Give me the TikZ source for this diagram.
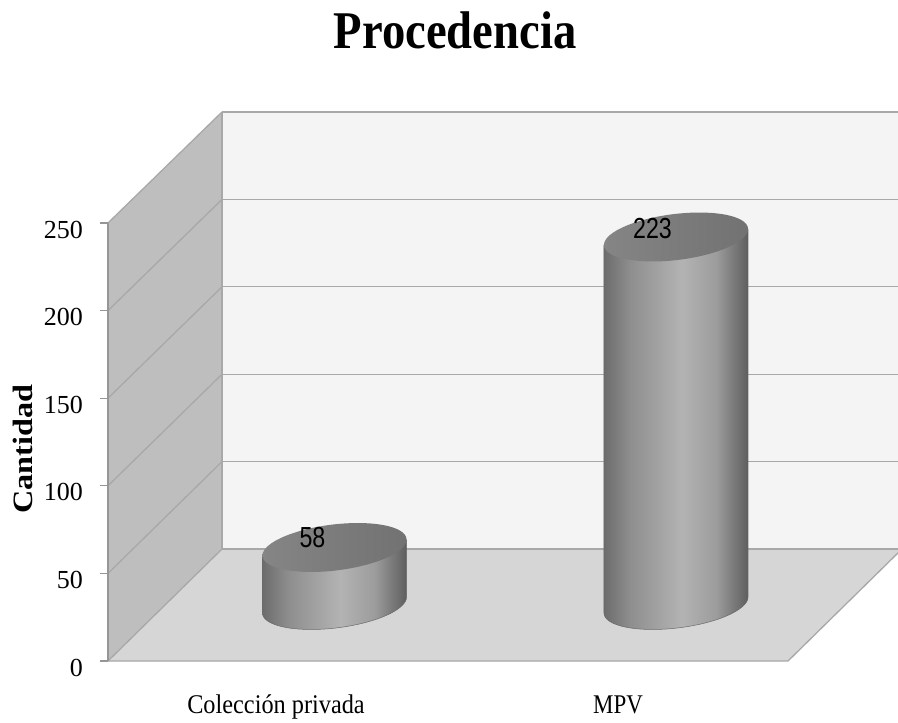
\documentclass[tikz,border=0pt]{standalone}
\usepackage{fontspec}
\setmainfont{Liberation Serif}
\newfontfamily\lsans{Liberation Sans}
\definecolor{lwall}{HTML}{BEBEBE}
\definecolor{bwall}{HTML}{F4F4F4}
\definecolor{floorc}{HTML}{D6D6D6}
\definecolor{gridc}{HTML}{A8A8A8}
\definecolor{axisc}{HTML}{969696}
\definecolor{cyA}{HTML}{6C6C6C}
\definecolor{cyB}{HTML}{8E8E8E}
\definecolor{cyC}{HTML}{B3B3B3}
\definecolor{cyD}{HTML}{9C9C9C}
\definecolor{cyE}{HTML}{5E5E5E}
\definecolor{topL}{HTML}{858585}
\definecolor{topR}{HTML}{727272}
\definecolor{cyedge}{HTML}{6A6A6A}
\pgfdeclarehorizontalshading{cylside}{100bp}{color(0bp)=(cyA); color(25bp)=(cyA); color(34bp)=(cyB); color(52bp)=(cyC); color(64bp)=(cyD); color(75bp)=(cyE); color(100bp)=(cyE)}
\newcommand{\mycyl}[3]{%
  \shade[shading=cylside] ({#1-72.02},{#2+7.94}) -- ({#1-72.02},{#3+7.94})
    -- plot[domain=182.23:2.23, samples=80, variable=\t]
       ({#1+72.5*cos(\t)*0.99255+23*sin(\t)*0.12187},{#3-72.5*cos(\t)*0.12187+23*sin(\t)*0.99255})
    -- ({#1+72.02},{#2-7.94}) -- cycle;
  \draw[cyedge, line width=0.5pt] ({#1-72.02},{#2+7.94}) -- ({#1-72.02},{#3+7.94})
    -- plot[domain=182.23:2.23, samples=80, variable=\t]
       ({#1+72.5*cos(\t)*0.99255+23*sin(\t)*0.12187},{#3-72.5*cos(\t)*0.12187+23*sin(\t)*0.99255})
    -- ({#1+72.02},{#2-7.94});
  \shade[left color=topL, right color=topR]
    plot[domain=0:360, samples=120, variable=\t]
       ({#1+72.5*cos(\t)*0.99255+23*sin(\t)*0.12187},{#2-72.5*cos(\t)*0.12187+23*sin(\t)*0.99255}) -- cycle;
}
\begin{document}
\begin{tikzpicture}[x=1pt,y=-1pt,
  gridline/.style={draw=gridc, line width=1.3pt},
  ticklab/.style={anchor=base east, inner sep=0pt, font=\fontsize{26}{30}\selectfont},
  catlab/.style={anchor=base, inner sep=0pt, font=\fontsize{27}{32}\selectfont},
  vallab/.style={anchor=base, inner sep=0pt, font=\lsans\fontsize{29}{34}\selectfont}]
\useasboundingbox (0,0) rectangle (898,723);
\fill[white] (0,0) rectangle (898,723);
% walls and floor
\fill[lwall] (108,223) -- (222,112) -- (222,549) -- (108,661) -- cycle;
\fill[bwall] (222,112) rectangle (902,549);
\fill[floorc] (108,661) -- (222,549) -- (902,549) -- (788,661) -- cycle;
% grid lines on back wall and left wall
\foreach \k in {0,1,2,3,4,5}{
  \draw[gridline] (222,{549-87.4*\k}) -- (902,{549-87.4*\k});
  \draw[gridline] (108,{661-87.6*\k}) -- (222,{549-87.4*\k});
}
\draw[gridline] (222,112) -- (222,549);
\draw[gridline] (108,661) -- (788,661) -- (902,549);
% axis
\draw[axisc, line width=1.3pt] (108,223) -- (108,661);
\foreach \k in {0,1,2,3,4,5}{
  \draw[axisc, line width=1.3pt] (100,{661-87.6*\k}) -- (108,{661-87.6*\k});
}
\node[ticklab] (t0) at (83,676) {0};
\node[ticklab] (t50) at (83,{676-87.6}) {50};
\node[ticklab] (t100) at (83,{676-2*87.6}) {100};
\node[ticklab] (t150) at (83,{676-3*87.6}) {150};
\node[ticklab] (t200) at (83,{676-4*87.6}) {200};
\node[ticklab] (t250) at (83,{676-5*87.6}) {250};
% cylinders
\mycyl{334.5}{547.5}{605}
\mycyl{676}{237}{605}
% labels
\node[vallab] (v58) at (312.5,547) {\scalebox{0.8}[1]{58}};
\node[vallab] (v223) at (652.5,238) {\scalebox{0.8}[1]{223}};
\node[catlab] (c1) at (276,713) {\scalebox{0.9}[1]{Colección privada}};
\node[catlab] (c2) at (618,713) {\scalebox{0.85}[1]{MPV}};
\node[rotate=90, anchor=base, inner sep=0pt, font=\bfseries\fontsize{28}{32}\selectfont] (ylab) at (32,449) {\scalebox{1.15}[1]{Cantidad}};
\node[anchor=base, inner sep=0pt, font=\bfseries\fontsize{53}{60}\selectfont] (title) at (455,48) {\scalebox{0.88}[1]{Procedencia}};
\end{tikzpicture}
\end{document}
